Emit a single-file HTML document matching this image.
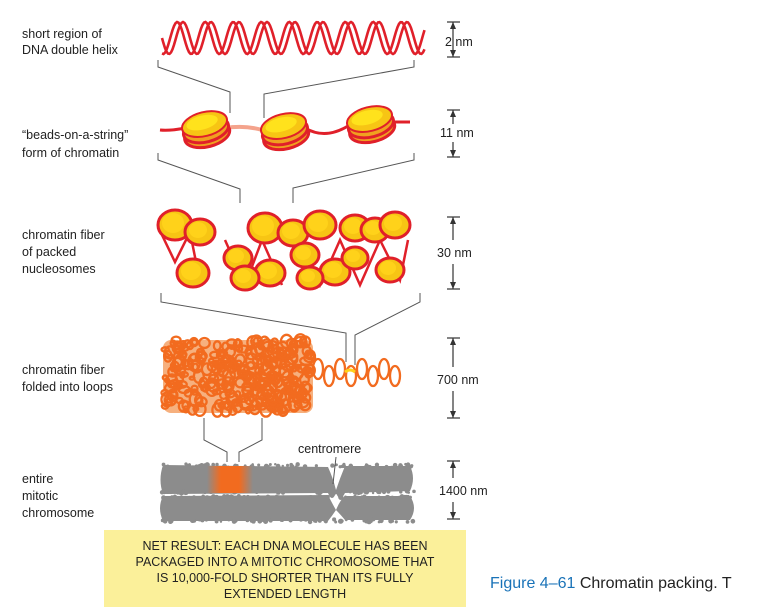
<!DOCTYPE html>
<html><head><meta charset="utf-8"><style>
body{margin:0;background:#fff;width:781px;height:610px;overflow:hidden;font-family:"Liberation Sans",sans-serif}
svg{position:absolute;left:0;top:0}
.l{font-size:12.5px;fill:#222}
</style></head><body>
<svg id="s" width="781" height="610" xmlns="http://www.w3.org/2000/svg">
<g id="g"></g>
<g stroke="#555" stroke-width="1" fill="none">
<polyline points="158,60 158,67 230,92 230,113"/>
<polyline points="414,60 414,67 264,94 264,118"/>
<polyline points="158,153 158,160 240,189 240,203"/>
<polyline points="414,153 414,160 293,188 293,203"/>
<polyline points="161,293 161,302 346,333 346,362"/>
<polyline points="420,293 420,302 355,335 355,365"/>
<polyline points="204,418 204,440 227,452 227,462"/>
<polyline points="262,418 262,440 239,452 239,462"/>
<line x1="333" y1="484" x2="336" y2="457"/>
</g>
<g stroke="#333" stroke-width="1.2" fill="#333">
<line x1="447" y1="22" x2="460" y2="22"/><line x1="447" y1="57" x2="460" y2="57"/><line x1="453" y1="22" x2="453" y2="57"/>
<line x1="447" y1="110" x2="460" y2="110"/><line x1="447" y1="157" x2="460" y2="157"/><line x1="453" y1="110" x2="453" y2="124"/><line x1="453" y1="142" x2="453" y2="157"/>
<line x1="447" y1="217" x2="460" y2="217"/><line x1="447" y1="289" x2="460" y2="289"/><line x1="453" y1="217" x2="453" y2="240"/><line x1="453" y1="264" x2="453" y2="289"/>
<line x1="447" y1="338" x2="460" y2="338"/><line x1="447" y1="418" x2="460" y2="418"/><line x1="453" y1="338" x2="453" y2="367"/><line x1="453" y1="391" x2="453" y2="418"/>
<line x1="447" y1="461" x2="460" y2="461"/><line x1="447" y1="519" x2="460" y2="519"/><line x1="453" y1="461" x2="453" y2="478"/><line x1="453" y1="502" x2="453" y2="519"/>
<path d="M450,29 L453,22 L456,29Z M450,50 L453,57 L456,50Z M450,117 L453,110 L456,117Z M450,150 L453,157 L456,150Z M450,224 L453,217 L456,224Z M450,282 L453,289 L456,282Z M450,345 L453,338 L456,345Z M450,411 L453,418 L456,411Z M450,468 L453,461 L456,468Z M450,512 L453,519 L456,512Z" stroke="none"/>
</g>
<g font-size="12.5" fill="#222">
<text x="445" y="46">2 nm</text>
<text x="440" y="137">11 nm</text>
<text x="437" y="257">30 nm</text>
<text x="437" y="384">700 nm</text>
<text x="439" y="495">1400 nm</text>
<text x="298" y="453">centromere</text>
</g>
<g class="l">
<text x="22" y="38">short region of</text><text x="22" y="54">DNA double helix</text>
<text x="22" y="139">“beads-on-a-string”</text><text x="22" y="157">form of chromatin</text>
<text x="22" y="239">chromatin fiber</text><text x="22" y="256">of packed</text><text x="22" y="273">nucleosomes</text>
<text x="22" y="374">chromatin fiber</text><text x="22" y="391">folded into loops</text>
<text x="22" y="483">entire</text><text x="22" y="500">mitotic</text><text x="22" y="517">chromosome</text>
</g>
<rect x="104" y="530" width="362" height="77" fill="#fbf09a"/>
<g font-size="12.5" fill="#222" text-anchor="middle">
<text x="285" y="550">NET RESULT: EACH DNA MOLECULE HAS BEEN</text>
<text x="285" y="566">PACKAGED INTO A MITOTIC CHROMOSOME THAT</text>
<text x="285" y="582">IS 10,000-FOLD SHORTER THAN ITS FULLY</text>
<text x="285" y="598">EXTENDED LENGTH</text>
</g>
<text x="490" y="588" font-size="16" fill="#1a73b8">Figure 4–61 <tspan fill="#222">Chromatin packing. T</tspan></text>
</svg>
<script>
var g=document.getElementById('g'),NS='http://www.w3.org/2000/svg';
function el(t,a,p){var e=document.createElementNS(NS,t);for(var k in a)e.setAttribute(k,a[k]);(p||g).appendChild(e);return e;}
var seed=7;function R(){seed=(seed*16807)%2147483647;return seed/2147483647;}
for(var p=0;p<2;p++){var d='';for(var x=162;x<=425;x+=1.5){var y=38+16*Math.sin((x-162)/28*2*Math.PI+p*1.3);d+=(x==162?'M':'L')+x+','+y.toFixed(1);}
el('path',{d:d,stroke:'#e0202a','stroke-width':2.6,fill:'none'});}
el('path',{d:'M160,130 Q170,131 185,128',stroke:'#e0202a','stroke-width':3,fill:'none'});
el('path',{d:'M225,128 Q245,125 262,130',stroke:'#f4a38c','stroke-width':4,fill:'none'});
el('path',{d:'M305,128 Q325,140 348,126',stroke:'#e0202a','stroke-width':3,fill:'none'});
el('path',{d:'M392,122 Q402,122 410,122',stroke:'#e0202a','stroke-width':3,fill:'none'});
[[205,126],[284,128],[370,121]].forEach(function(c){
 var gg=el('g',{transform:'translate('+c[0]+','+c[1]+') rotate(-14)'});
 el('ellipse',{cx:0,cy:9,rx:23,ry:12,fill:'#f0a020',stroke:'#e0202a','stroke-width':3},gg);
 el('ellipse',{cx:0,cy:4,rx:23,ry:12,fill:'#f0a020',stroke:'#e0202a','stroke-width':3},gg);
 el('ellipse',{cx:0,cy:-2,rx:23,ry:12,fill:'#f7c514',stroke:'#e0202a','stroke-width':2},gg);
 el('ellipse',{cx:-2,cy:-4,rx:16,ry:7,fill:'#ffe21c'},gg);
});
el('path',{d:'M162,235 L175,262 L190,232 L200,282 M225,240 L245,285 L262,240 L282,285 M300,240 L320,285 L340,240 L360,285 L380,240 L400,280 L408,240',stroke:'#e0202a','stroke-width':2.5,fill:'none'});
var discs=[[175,225,15],[200,232,13],[238,258,12],[193,273,14],[265,228,15],[293,233,13],[320,225,14],[305,255,12],[270,273,13],[335,272,13],[355,228,13],[375,230,12],[395,225,13],[355,258,11],[390,270,12],[245,278,12],[310,278,11]];
discs.forEach(function(c){el('ellipse',{cx:c[0],cy:c[1],rx:c[2]+2,ry:c[2],fill:'#f7c514',stroke:'#e0202a','stroke-width':3});el('ellipse',{cx:c[0]-2,cy:c[1]-2,rx:c[2]-4,ry:c[2]-5,fill:'#ffd21a'});});
el('rect',{x:163,y:340,width:150,height:73,rx:8,fill:'#f6b07e'});
for(var i=0;i<320;i++){var x=165+R()*146,y=340+R()*72,r=2+R()*4;el('ellipse',{cx:x,cy:y,rx:r,ry:r*(0.6+R()*0.8),fill:'none',stroke:'#f26b1f','stroke-width':2.3});}
for(var k=0;k<8;k++){el('ellipse',{cx:318+k*11,cy:372+(k%2?4:-3),rx:5,ry:10,fill:'none',stroke:'#f26b1f','stroke-width':2.3});}
el('path',{d:'M345,372 q5,-4 10,0',stroke:'#ffd21a','stroke-width':3,fill:'none'});
var gray='#8c8c8c';
el('path',{d:'M163,465 L328,467 Q333,478 336,490 Q340,478 345,466 L410,466 Q416,478 410,491 L345,493 Q340,503 336,493 Q332,503 328,493 L163,494 Q158,480 163,465Z',fill:gray});
el('path',{d:'M163,496 L328,495 Q333,505 336,510 Q340,500 345,496 L410,496 Q418,508 410,520 L345,520 Q340,514 336,510 Q332,516 328,521 L163,521 Q157,508 163,496Z',fill:gray});
for(var i=0;i<260;i++){var x=162+R()*252;var ys=[464+R()*3,491+R()*2,496+R()*2,519+R()*3];var y=ys[i%4];el('circle',{cx:x,cy:y,r:1.2+R()*1.5,fill:gray});}
var gr=document.createElementNS(NS,'linearGradient');gr.setAttribute('id','og');
[[0,0],[0.3,1],[0.7,1],[1,0]].forEach(function(s){var st=document.createElementNS(NS,'stop');st.setAttribute('offset',s[0]);st.setAttribute('stop-color','#f26b1f');st.setAttribute('stop-opacity',s[1]);gr.appendChild(st);});
document.getElementById('s').insertBefore(gr,g);
el('rect',{x:207,y:466,width:46,height:27,fill:'url(#og)'});
</script>
</body></html>
